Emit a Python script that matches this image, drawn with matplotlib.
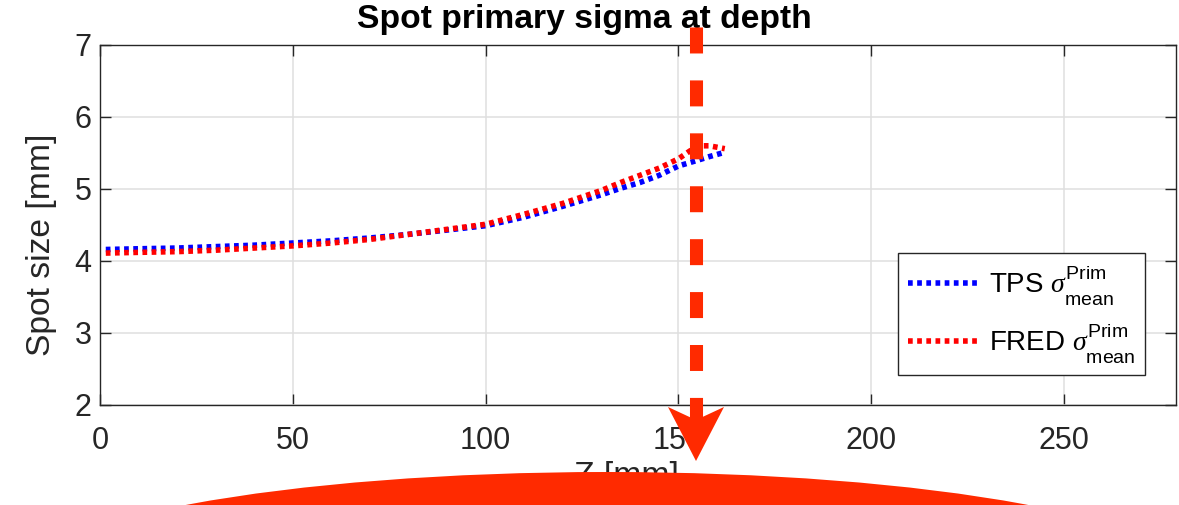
import matplotlib
matplotlib.use("Agg")
import matplotlib.pyplot as plt
from matplotlib import _mathtext
from matplotlib.lines import Line2D
from matplotlib.patches import Ellipse, Polygon

plt.rcParams['font.family'] = ['Liberation Sans', 'DejaVu Sans']
plt.rcParams['mathtext.fontset'] = 'custom'
plt.rcParams['mathtext.rm'] = 'Liberation Sans'
plt.rcParams['mathtext.it'] = 'Liberation Serif:italic'
plt.rcParams['lines.scale_dashes'] = False


# push super/subscripts further apart, like TeX-style legends
class WideScripts(_mathtext.FontConstantsBase):
    sup1 = 1.05
    sub1 = 0.9
    sub2 = 0.95


for fam in ('Liberation Sans', 'Liberation Serif'):
    _mathtext._font_constant_mapping[fam] = WideScripts

# spot sigma vs depth
z_tps = [1.5, 10, 20, 30, 40, 50, 60, 70, 80, 90, 100, 110, 120, 130, 135, 140, 145, 150, 155, 158, 162]
sigma_tps = [4.16, 4.17, 4.18, 4.20, 4.22, 4.25, 4.28, 4.32, 4.37, 4.43, 4.49, 4.61, 4.76, 4.92,
             5.01, 5.09, 5.19, 5.32, 5.40, 5.45, 5.51]
z_fred = [1.5, 10, 20, 30, 40, 50, 60, 70, 80, 90, 100, 110, 120, 130, 135, 140, 145, 150, 153, 156, 158, 162]
sigma_fred = [4.11, 4.12, 4.13, 4.15, 4.18, 4.21, 4.25, 4.30, 4.37, 4.44, 4.51, 4.65, 4.80, 4.98,
              5.09, 5.19, 5.29, 5.42, 5.53, 5.60, 5.60, 5.56]

xticks = [0, 50, 100, 150, 200, 250]
yticks = [2, 3, 4, 5, 6, 7]

W, H = 1179, 505
fig = plt.figure(figsize=(W / 100, H / 100), dpi=100)
ax = fig.add_axes([100 / W, 1 - 405 / H, 1076 / W, 360 / H])

dot = dict(linewidth=4.0, dashes=(3.4, 3.2), dash_capstyle='butt')
ax.plot(z_tps, sigma_tps, color='#0000ff',
        label=r'TPS $\sigma^{\mathrm{Prim}}_{\mathrm{mean}}\;\;$', **dot)
ax.plot(z_fred, sigma_fred, color='#ff0000',
        label=r'FRED $\sigma^{\mathrm{Prim}}_{\mathrm{mean}}\;\;$', **dot)

ax.set_xlim(0, 279)
ax.set_ylim(2, 7)
ax.set_xticks(xticks)
ax.set_yticks(yticks)
ax.grid(True, color='#dfdfdf', linewidth=1.1)
ax.set_axisbelow(True)
for s in ax.spines.values():
    s.set_color('#262626')
    s.set_linewidth(1.0)
ax.tick_params(direction='in', length=8, width=1.0, color='#262626', labelcolor='#262626',
               labelsize=22, top=True, right=True)
ax.tick_params(axis='x', pad=15)
ax.tick_params(axis='y', pad=6)

ax.set_ylabel('Spot size [mm]', fontsize=24.2, color='#262626')
ax.yaxis.set_label_coords((57 - 100) / 1076, (405 - 245) / 360)
ax.set_xlabel('Z [mm]', fontsize=24.2, color='#262626')
ax.xaxis.set_label_coords((626 - 100) / 1076, (405 - 461) / 360)
ax.set_title('Spot primary sigma at depth', fontsize=24.2, fontweight='bold',
             x=(584 - 100) / 1076, pad=12)

leg = ax.legend(loc='lower right', bbox_to_anchor=((1145 - 100) / 1076, (405 - 375) / 360),
                fontsize=20, frameon=True, fancybox=False, framealpha=1, edgecolor='#262626',
                handlelength=2.6, handletextpad=0.3, borderpad=0.36, labelspacing=0.5,
                borderaxespad=0)
leg.get_frame().set_linewidth(1.0)


def px(x, y):
    # pixel position (from top-left) to figure fraction
    return x / W, 1 - y / H


# highlight: dashed arrow down from the curve end, and a swoosh along the bottom
arrow_col = '#ff2a00'
x0, y0 = px(696, 27)
x1, y1 = px(696, 420)
fig.add_artist(Line2D([x0, x1], [y0, y1], transform=fig.transFigure, color=arrow_col,
                      linewidth=9.4, dashes=(18.7, 19.4), dash_capstyle='butt', zorder=10))
fig.add_artist(Polygon([px(668, 407), px(696, 420), px(724, 407), px(696, 461)], closed=True,
                       transform=fig.transFigure, facecolor=arrow_col, edgecolor='none', zorder=10))
cx, cy = px(607, 582)
fig.add_artist(Ellipse((cx, cy), 1180 / W, 220 / H, transform=fig.transFigure,
                       facecolor=arrow_col, edgecolor='none', zorder=10))

fig.savefig('out.png', dpi=100)
